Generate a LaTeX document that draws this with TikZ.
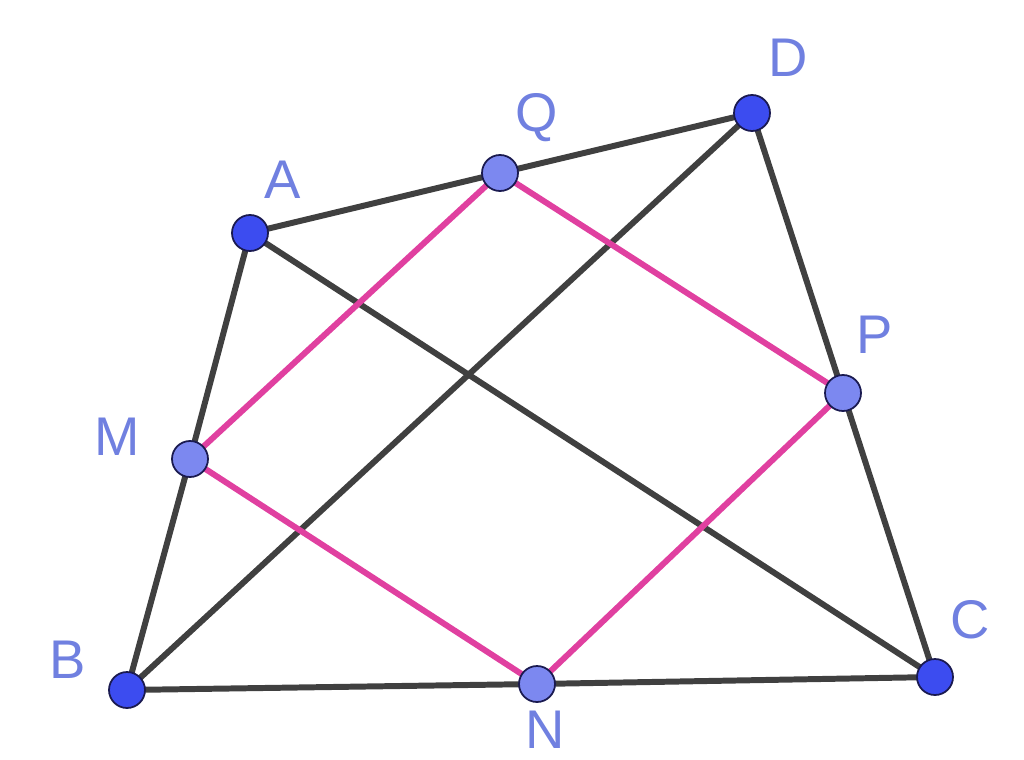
\documentclass[tikz,border=0pt]{standalone}
\usepackage{fontspec}
\setmainfont{Liberation Sans}
\definecolor{edgegray}{HTML}{404040}
\definecolor{pinkline}{HTML}{E040A0}
\definecolor{ptdark}{HTML}{3C4CF0}
\definecolor{ptlight}{HTML}{7C88F0}
\definecolor{ptrim}{HTML}{1A1A50}
\definecolor{lblcol}{HTML}{7080E0}
\begin{document}
\begin{tikzpicture}[x=0.02cm,y=-0.02cm,
  side/.style={draw=edgegray,line width=3.4pt},
  mid/.style={draw=pinkline,line width=3.4pt},
  vtx/.style={circle,draw=ptrim,line width=1pt,fill=ptdark,minimum size=0.72cm,inner sep=0pt},
  mpt/.style={circle,draw=ptrim,line width=1pt,fill=ptlight,minimum size=0.72cm,inner sep=0pt},
  lbl/.style={text=lblcol,font=\fontsize{31}{36}\selectfont,inner sep=0pt}]
\useasboundingbox (0,0) rectangle (1024,760);
\coordinate (A) at (250,233);
\coordinate (B) at (127,690);
\coordinate (C) at (935,677);
\coordinate (D) at (752,113);
\coordinate (M) at (190,459);
\coordinate (N) at (537,684);
\coordinate (P) at (843,393);
\coordinate (Q) at (500,173);
\draw[side] (A) -- (Q) -- (D) -- (P) -- (C) -- (N) -- (B) -- (M) -- cycle;
\draw[side] (A) -- (C);
\draw[side] (B) -- (D);
\draw[mid] (M) -- (Q) -- (P) -- (N) -- cycle;
\node[vtx] (nA) at (A) {};
\node[vtx] (nB) at (B) {};
\node[vtx] (nC) at (C) {};
\node[vtx] (nD) at (D) {};
\node[mpt] (nM) at (M) {};
\node[mpt] (nN) at (N) {};
\node[mpt] (nP) at (P) {};
\node[mpt] (nQ) at (Q) {};
\node[lbl] (lA) at (283,180) {A};
\node[lbl] (lB) at (68,660) {B};
\node[lbl] (lC) at (970,620) {C};
\node[lbl] (lD) at (788,58) {D};
\node[lbl] (lM) at (117,437) {M};
\node[lbl] (lN) at (545,730) {N};
\node[lbl] (lP) at (875,335) {P};
\node[lbl] (lQ) at (537,118) {Q};
\end{tikzpicture}
\end{document}
